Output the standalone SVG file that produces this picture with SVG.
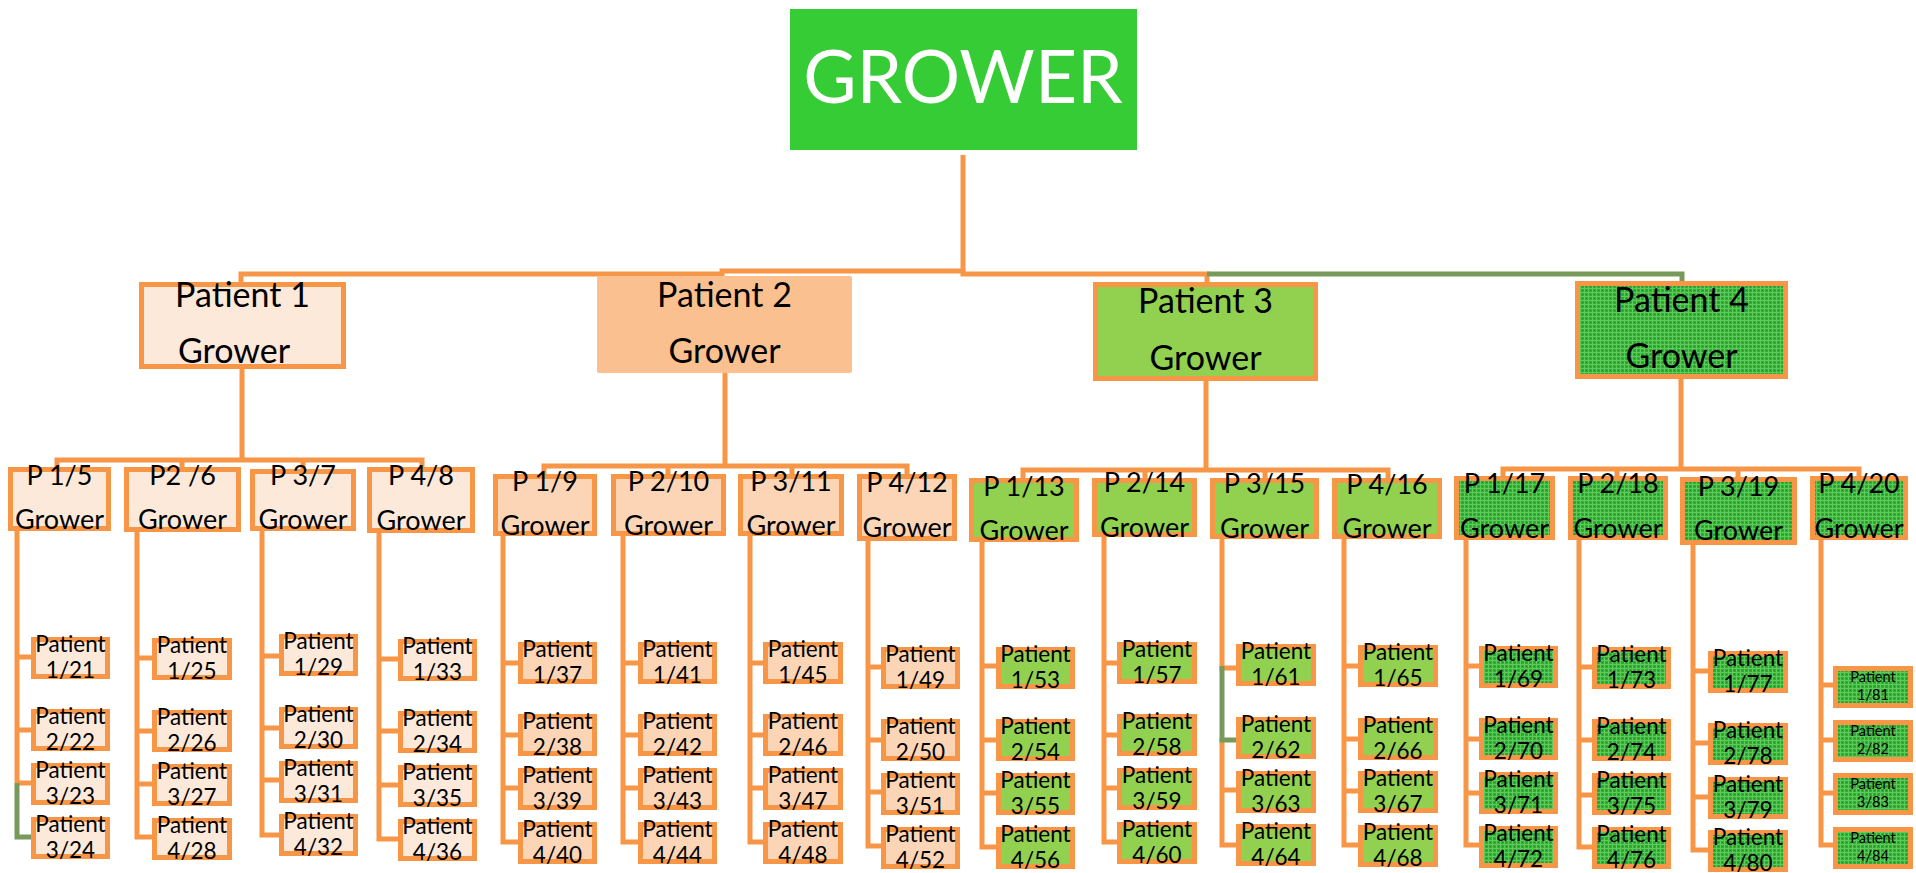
<svg xmlns="http://www.w3.org/2000/svg" width="1916" height="873" viewBox="0 0 1916 873">
<defs>
<pattern id="pat" width="4" height="4" patternUnits="userSpaceOnUse">
<rect width="4" height="4" fill="#31AE31"/>
<rect width="4" height="1" fill="#5CCB5C"/>
<rect width="1" height="4" fill="#5CCB5C"/>
<rect x="2" y="2" width="1" height="1" fill="#248E24"/>
</pattern>
<style>
.c{fill:none;stroke:#F79646;stroke-width:5}
.g{fill:none;stroke:#77995A;stroke-width:5}
.b1{fill:#FDE9D9;stroke:#F79646;stroke-width:5}
.b2{fill:#FBD5B5;stroke:#F79646;stroke-width:5}
.b3{fill:#92D050;stroke:#F79646;stroke-width:5}
.b4{fill:url(#pat);stroke:#F79646;stroke-width:5}
text{font-family:Lato,"Open Sans","Liberation Sans",sans-serif;fill:#000;text-anchor:middle}
.root{font-size:73px;fill:#fff}
.pt{font-size:34px}
.l2{font-size:27px}
.lf{font-size:22.5px}
.sm{font-size:14.5px}
</style>
</defs>
<rect width="1916" height="873" fill="#fff"/>
<g id="connectors">
<path class="c" d="M963 155V272"/>
<path class="c" d="M241 282V274H722M722 276V271H963V274H1207V282"/>
<path class="g" d="M1207 274H1682V281"/>
<path class="c" d="M242 369V460M57 467V460H422V467M182 460V467M303 460V469"/>
<path class="c" d="M725 373V466M544 474V466H907V474M668 466V474M792 466V474"/>
<path class="c" d="M1206 381V470M1023 478V470H1388V478M1145 470V478M1265 470V478"/>
<path class="c" d="M1681 379V469M1503 476V469H1859V476M1617 469V476M1738 469V477"/>
<path class="c" d="M17 531V783M17 657H31M17 730H31M17 783H31"/>
<path class="g" d="M17 783V837H31"/>
<path class="c" d="M137 532V837H152M137 658H152M137 731H152M137 784H152"/>
<path class="c" d="M262 531V835H279M262 656H279M262 728H279M262 780H279"/>
<path class="c" d="M379 533V839H398M379 659H398M379 731H398M379 785H398"/>
<path class="c" d="M503 536V842H518M503 663H518M503 735H518M503 788H518"/>
<path class="c" d="M623 536V842H638M623 663H638M623 735H638M623 788H638"/>
<path class="c" d="M750 536V842H763M750 663H763M750 735H763M750 788H763"/>
<path class="c" d="M868 541V846H881M868 667H881M868 740H881M868 792H881"/>
<path class="c" d="M982 542V847H996M982 666H996M982 740H996M982 793H996"/>
<path class="c" d="M1104 537V842H1117M1104 663H1117M1104 735H1117M1104 788H1117"/>
<path class="c" d="M1222 539V668H1236M1222 738V845H1236M1222 790H1236"/>
<path class="g" d="M1222 666V740H1236"/>
<path class="c" d="M1344 539V845H1358M1344 666H1358M1344 739H1358M1344 791H1358"/>
<path class="c" d="M1466 540V845H1479M1466 666H1479M1466 739H1479M1466 793H1479"/>
<path class="c" d="M1579 540V847H1592M1579 667H1592M1579 740H1592M1579 795H1592"/>
<path class="c" d="M1693 545V850H1708M1693 671H1708M1693 743H1708M1693 797H1708"/>
<path class="c" d="M1821 540V845H1833M1821 685H1833M1821 740H1833M1821 793H1833"/>
</g>
<g id="root"><rect x="790" y="9" width="347" height="141" fill="#36CC36"/><text class="root" x="963" y="103">GROWER</text></g>
<g id="patient1"><rect class="b1" x="141.5" y="284.5" width="202" height="82"/><text class="pt" x="242.5" y="307">Patient 1</text><text class="pt" x="178" y="363" style="text-anchor:start">Grower</text></g>
<g id="patient2"><rect x="597" y="276" width="255" height="97" rx="2" fill="#FAC090"/><text class="pt" x="724.5" y="307">Patient 2</text><text class="pt" x="724.5" y="363">Grower</text></g>
<g id="patient3"><rect class="b3" x="1095.5" y="284.5" width="220" height="94"/><text class="pt" x="1205.5" y="313">Patient 3</text><text class="pt" x="1205.5" y="370">Grower</text></g>
<g id="patient4"><rect class="b4" x="1577.5" y="283.5" width="208" height="93"/><text class="pt" x="1681.5" y="312">Patient 4</text><text class="pt" x="1681.5" y="368">Grower</text></g>
<g id="p1-5"><rect class="b1" x="10.5" y="469.5" width="98" height="59"/><text class="l2" x="59.5" y="485">P 1/5</text><text class="l2" x="59.5" y="529">Grower</text></g>
<g id="p2-6"><rect class="b1" x="126.5" y="469.5" width="112" height="60"/><text class="l2" x="182.5" y="485">P2 /6</text><text class="l2" x="182.5" y="529">Grower</text></g>
<g id="p3-7"><rect class="b1" x="252.5" y="471.5" width="101" height="57"/><text class="l2" x="303" y="485">P 3/7</text><text class="l2" x="303" y="529">Grower</text></g>
<g id="p4-8"><rect class="b1" x="369.5" y="469.5" width="103" height="61"/><text class="l2" x="421" y="485">P 4/8</text><text class="l2" x="421" y="530">Grower</text></g>
<g id="p1-9"><rect class="b2" x="495.5" y="476.5" width="99" height="57"/><text class="l2" x="545" y="491">P 1/9</text><text class="l2" x="545" y="535">Grower</text></g>
<g id="p2-10"><rect class="b2" x="613.5" y="476.5" width="110" height="57"/><text class="l2" x="668.5" y="491">P 2/10</text><text class="l2" x="668.5" y="535">Grower</text></g>
<g id="p3-11"><rect class="b2" x="740.5" y="476.5" width="101" height="57"/><text class="l2" x="791" y="491">P 3/11</text><text class="l2" x="791" y="535">Grower</text></g>
<g id="p4-12"><rect class="b2" x="859.5" y="476.5" width="95" height="62"/><text class="l2" x="907" y="492">P 4/12</text><text class="l2" x="907" y="537">Grower</text></g>
<g id="p1-13"><rect class="b3" x="971.5" y="480.5" width="105" height="59"/><text class="l2" x="1024" y="496">P 1/13</text><text class="l2" x="1024" y="540">Grower</text></g>
<g id="p2-14"><rect class="b3" x="1094.5" y="480.5" width="100" height="54"/><text class="l2" x="1144.5" y="492">P 2/14</text><text class="l2" x="1144.5" y="537">Grower</text></g>
<g id="p3-15"><rect class="b3" x="1212.5" y="480.5" width="104" height="56"/><text class="l2" x="1264.5" y="493">P 3/15</text><text class="l2" x="1264.5" y="538">Grower</text></g>
<g id="p4-16"><rect class="b3" x="1334.5" y="480.5" width="105" height="56"/><text class="l2" x="1387" y="494">P 4/16</text><text class="l2" x="1387" y="538">Grower</text></g>
<g id="p1-17"><rect class="b4" x="1456.5" y="478.5" width="96" height="59"/><text class="l2" x="1504.5" y="493">P 1/17</text><text class="l2" x="1504.5" y="538">Grower</text></g>
<g id="p2-18"><rect class="b4" x="1570.5" y="478.5" width="95" height="59"/><text class="l2" x="1618" y="493">P 2/18</text><text class="l2" x="1618" y="538">Grower</text></g>
<g id="p3-19"><rect class="b4" x="1682.5" y="479.5" width="112" height="63"/><text class="l2" x="1738.5" y="496">P 3/19</text><text class="l2" x="1738.5" y="540">Grower</text></g>
<g id="p4-20"><rect class="b4" x="1812.5" y="478.5" width="93" height="59"/><text class="l2" x="1859" y="493">P 4/20</text><text class="l2" x="1859" y="538">Grower</text></g>
<g id="leaf-1-21"><rect class="b1" x="33.5" y="639.5" width="74" height="37"/><text class="lf" x="70.5" y="651.5">Patient<tspan x="70.5" dy="26.5">1/21</tspan></text></g>
<g id="leaf-2-22"><rect class="b1" x="33.5" y="711.5" width="74" height="37"/><text class="lf" x="70.5" y="723.5">Patient<tspan x="70.5" dy="26.5">2/22</tspan></text></g>
<g id="leaf-3-23"><rect class="b1" x="33.5" y="765.5" width="74" height="37"/><text class="lf" x="70.5" y="777.5">Patient<tspan x="70.5" dy="26.5">3/23</tspan></text></g>
<g id="leaf-3-24"><rect class="b1" x="33.5" y="819.5" width="74" height="37"/><text class="lf" x="70.5" y="831.5">Patient<tspan x="70.5" dy="26.5">3/24</tspan></text></g>
<g id="leaf-1-25"><rect class="b1" x="154.5" y="640.5" width="75" height="37"/><text class="lf" x="192" y="652.5">Patient<tspan x="192" dy="26.5">1/25</tspan></text></g>
<g id="leaf-2-26"><rect class="b1" x="154.5" y="712.5" width="75" height="37"/><text class="lf" x="192" y="724.5">Patient<tspan x="192" dy="26.5">2/26</tspan></text></g>
<g id="leaf-3-27"><rect class="b1" x="154.5" y="766.5" width="75" height="37"/><text class="lf" x="192" y="778.5">Patient<tspan x="192" dy="26.5">3/27</tspan></text></g>
<g id="leaf-4-28"><rect class="b1" x="154.5" y="820.5" width="75" height="37"/><text class="lf" x="192" y="832.5">Patient<tspan x="192" dy="26.5">4/28</tspan></text></g>
<g id="leaf-1-29"><rect class="b1" x="281.5" y="636.5" width="74" height="37"/><text class="lf" x="318.5" y="648.5">Patient<tspan x="318.5" dy="26.5">1/29</tspan></text></g>
<g id="leaf-2-30"><rect class="b1" x="281.5" y="709.5" width="74" height="37"/><text class="lf" x="318.5" y="721.5">Patient<tspan x="318.5" dy="26.5">2/30</tspan></text></g>
<g id="leaf-3-31"><rect class="b1" x="281.5" y="763.5" width="74" height="37"/><text class="lf" x="318.5" y="775.5">Patient<tspan x="318.5" dy="26.5">3/31</tspan></text></g>
<g id="leaf-4-32"><rect class="b1" x="281.5" y="816.5" width="74" height="37"/><text class="lf" x="318.5" y="828.5">Patient<tspan x="318.5" dy="26.5">4/32</tspan></text></g>
<g id="leaf-1-33"><rect class="b1" x="400.5" y="641.5" width="74" height="37"/><text class="lf" x="437.5" y="653.5">Patient<tspan x="437.5" dy="26.5">1/33</tspan></text></g>
<g id="leaf-2-34"><rect class="b1" x="400.5" y="713.5" width="74" height="37"/><text class="lf" x="437.5" y="725.5">Patient<tspan x="437.5" dy="26.5">2/34</tspan></text></g>
<g id="leaf-3-35"><rect class="b1" x="400.5" y="767.5" width="74" height="37"/><text class="lf" x="437.5" y="779.5">Patient<tspan x="437.5" dy="26.5">3/35</tspan></text></g>
<g id="leaf-4-36"><rect class="b1" x="400.5" y="821.5" width="74" height="37"/><text class="lf" x="437.5" y="833.5">Patient<tspan x="437.5" dy="26.5">4/36</tspan></text></g>
<g id="leaf-1-37"><rect class="b2" x="520.5" y="644.5" width="74" height="37"/><text class="lf" x="557.5" y="656.5">Patient<tspan x="557.5" dy="26.5">1/37</tspan></text></g>
<g id="leaf-2-38"><rect class="b2" x="520.5" y="716.5" width="74" height="37"/><text class="lf" x="557.5" y="728.5">Patient<tspan x="557.5" dy="26.5">2/38</tspan></text></g>
<g id="leaf-3-39"><rect class="b2" x="520.5" y="770.5" width="74" height="37"/><text class="lf" x="557.5" y="782.5">Patient<tspan x="557.5" dy="26.5">3/39</tspan></text></g>
<g id="leaf-4-40"><rect class="b2" x="520.5" y="824.5" width="74" height="37"/><text class="lf" x="557.5" y="836.5">Patient<tspan x="557.5" dy="26.5">4/40</tspan></text></g>
<g id="leaf-1-41"><rect class="b2" x="640.5" y="644.5" width="74" height="37"/><text class="lf" x="677.5" y="656.5">Patient<tspan x="677.5" dy="26.5">1/41</tspan></text></g>
<g id="leaf-2-42"><rect class="b2" x="640.5" y="716.5" width="74" height="37"/><text class="lf" x="677.5" y="728.5">Patient<tspan x="677.5" dy="26.5">2/42</tspan></text></g>
<g id="leaf-3-43"><rect class="b2" x="640.5" y="770.5" width="74" height="37"/><text class="lf" x="677.5" y="782.5">Patient<tspan x="677.5" dy="26.5">3/43</tspan></text></g>
<g id="leaf-4-44"><rect class="b2" x="640.5" y="824.5" width="74" height="37"/><text class="lf" x="677.5" y="836.5">Patient<tspan x="677.5" dy="26.5">4/44</tspan></text></g>
<g id="leaf-1-45"><rect class="b2" x="765.5" y="644.5" width="75" height="37"/><text class="lf" x="803" y="656.5">Patient<tspan x="803" dy="26.5">1/45</tspan></text></g>
<g id="leaf-2-46"><rect class="b2" x="765.5" y="716.5" width="75" height="37"/><text class="lf" x="803" y="728.5">Patient<tspan x="803" dy="26.5">2/46</tspan></text></g>
<g id="leaf-3-47"><rect class="b2" x="765.5" y="770.5" width="75" height="37"/><text class="lf" x="803" y="782.5">Patient<tspan x="803" dy="26.5">3/47</tspan></text></g>
<g id="leaf-4-48"><rect class="b2" x="765.5" y="824.5" width="75" height="37"/><text class="lf" x="803" y="836.5">Patient<tspan x="803" dy="26.5">4/48</tspan></text></g>
<g id="leaf-1-49"><rect class="b2" x="883.5" y="649.5" width="74" height="37"/><text class="lf" x="920.5" y="661.5">Patient<tspan x="920.5" dy="26.5">1/49</tspan></text></g>
<g id="leaf-2-50"><rect class="b2" x="883.5" y="721.5" width="74" height="37"/><text class="lf" x="920.5" y="733.5">Patient<tspan x="920.5" dy="26.5">2/50</tspan></text></g>
<g id="leaf-3-51"><rect class="b2" x="883.5" y="775.5" width="74" height="37"/><text class="lf" x="920.5" y="787.5">Patient<tspan x="920.5" dy="26.5">3/51</tspan></text></g>
<g id="leaf-4-52"><rect class="b2" x="883.5" y="829.5" width="74" height="37"/><text class="lf" x="920.5" y="841.5">Patient<tspan x="920.5" dy="26.5">4/52</tspan></text></g>
<g id="leaf-1-53"><rect class="b3" x="998.5" y="649.5" width="74" height="37"/><text class="lf" x="1035.5" y="661.5">Patient<tspan x="1035.5" dy="26.5">1/53</tspan></text></g>
<g id="leaf-2-54"><rect class="b3" x="998.5" y="721.5" width="74" height="37"/><text class="lf" x="1035.5" y="733.5">Patient<tspan x="1035.5" dy="26.5">2/54</tspan></text></g>
<g id="leaf-3-55"><rect class="b3" x="998.5" y="775.5" width="74" height="37"/><text class="lf" x="1035.5" y="787.5">Patient<tspan x="1035.5" dy="26.5">3/55</tspan></text></g>
<g id="leaf-4-56"><rect class="b3" x="998.5" y="829.5" width="74" height="37"/><text class="lf" x="1035.5" y="841.5">Patient<tspan x="1035.5" dy="26.5">4/56</tspan></text></g>
<g id="leaf-1-57"><rect class="b3" x="1119.5" y="644.5" width="75" height="37"/><text class="lf" x="1157" y="656.5">Patient<tspan x="1157" dy="26.5">1/57</tspan></text></g>
<g id="leaf-2-58"><rect class="b3" x="1119.5" y="716.5" width="75" height="37"/><text class="lf" x="1157" y="728.5">Patient<tspan x="1157" dy="26.5">2/58</tspan></text></g>
<g id="leaf-3-59"><rect class="b3" x="1119.5" y="770.5" width="75" height="37"/><text class="lf" x="1157" y="782.5">Patient<tspan x="1157" dy="26.5">3/59</tspan></text></g>
<g id="leaf-4-60"><rect class="b3" x="1119.5" y="824.5" width="75" height="37"/><text class="lf" x="1157" y="836.5">Patient<tspan x="1157" dy="26.5">4/60</tspan></text></g>
<g id="leaf-1-61"><rect class="b3" x="1238.5" y="646.5" width="75" height="37"/><text class="lf" x="1276" y="658.5">Patient<tspan x="1276" dy="26.5">1/61</tspan></text></g>
<g id="leaf-2-62"><rect class="b3" x="1238.5" y="719.5" width="75" height="37"/><text class="lf" x="1276" y="731.5">Patient<tspan x="1276" dy="26.5">2/62</tspan></text></g>
<g id="leaf-3-63"><rect class="b3" x="1238.5" y="773.5" width="75" height="37"/><text class="lf" x="1276" y="785.5">Patient<tspan x="1276" dy="26.5">3/63</tspan></text></g>
<g id="leaf-4-64"><rect class="b3" x="1238.5" y="826.5" width="75" height="37"/><text class="lf" x="1276" y="838.5">Patient<tspan x="1276" dy="26.5">4/64</tspan></text></g>
<g id="leaf-1-65"><rect class="b3" x="1360.5" y="647.5" width="75" height="37"/><text class="lf" x="1398" y="659.5">Patient<tspan x="1398" dy="26.5">1/65</tspan></text></g>
<g id="leaf-2-66"><rect class="b3" x="1360.5" y="720.5" width="75" height="37"/><text class="lf" x="1398" y="732.5">Patient<tspan x="1398" dy="26.5">2/66</tspan></text></g>
<g id="leaf-3-67"><rect class="b3" x="1360.5" y="773.5" width="75" height="37"/><text class="lf" x="1398" y="785.5">Patient<tspan x="1398" dy="26.5">3/67</tspan></text></g>
<g id="leaf-4-68"><rect class="b3" x="1360.5" y="827.5" width="75" height="37"/><text class="lf" x="1398" y="839.5">Patient<tspan x="1398" dy="26.5">4/68</tspan></text></g>
<g id="leaf-1-69"><rect class="b4" x="1481.5" y="648.5" width="74" height="37"/><text class="lf" x="1518.5" y="660.5">Patient<tspan x="1518.5" dy="26.5">1/69</tspan></text></g>
<g id="leaf-2-70"><rect class="b4" x="1481.5" y="720.5" width="74" height="37"/><text class="lf" x="1518.5" y="732.5">Patient<tspan x="1518.5" dy="26.5">2/70</tspan></text></g>
<g id="leaf-3-71"><rect class="b4" x="1481.5" y="774.5" width="74" height="37"/><text class="lf" x="1518.5" y="786.5">Patient<tspan x="1518.5" dy="26.5">3/71</tspan></text></g>
<g id="leaf-4-72"><rect class="b4" x="1481.5" y="828.5" width="74" height="37"/><text class="lf" x="1518.5" y="840.5">Patient<tspan x="1518.5" dy="26.5">4/72</tspan></text></g>
<g id="leaf-1-73"><rect class="b4" x="1594.5" y="649.5" width="74" height="37"/><text class="lf" x="1631.5" y="661.5">Patient<tspan x="1631.5" dy="26.5">1/73</tspan></text></g>
<g id="leaf-2-74"><rect class="b4" x="1594.5" y="721.5" width="74" height="37"/><text class="lf" x="1631.5" y="733.5">Patient<tspan x="1631.5" dy="26.5">2/74</tspan></text></g>
<g id="leaf-3-75"><rect class="b4" x="1594.5" y="775.5" width="74" height="37"/><text class="lf" x="1631.5" y="787.5">Patient<tspan x="1631.5" dy="26.5">3/75</tspan></text></g>
<g id="leaf-4-76"><rect class="b4" x="1594.5" y="829.5" width="74" height="37"/><text class="lf" x="1631.5" y="841.5">Patient<tspan x="1631.5" dy="26.5">4/76</tspan></text></g>
<g id="leaf-1-77"><rect class="b4" x="1710.5" y="653.5" width="75" height="37"/><text class="lf" x="1748" y="665.5">Patient<tspan x="1748" dy="26.5">1/77</tspan></text></g>
<g id="leaf-2-78"><rect class="b4" x="1710.5" y="725.5" width="75" height="37"/><text class="lf" x="1748" y="737.5">Patient<tspan x="1748" dy="26.5">2/78</tspan></text></g>
<g id="leaf-3-79"><rect class="b4" x="1710.5" y="779.5" width="75" height="37"/><text class="lf" x="1748" y="791.5">Patient<tspan x="1748" dy="26.5">3/79</tspan></text></g>
<g id="leaf-4-80"><rect class="b4" x="1710.5" y="832.5" width="75" height="37"/><text class="lf" x="1748" y="844.5">Patient<tspan x="1748" dy="26.5">4/80</tspan></text></g>
<g id="leaf-1-81"><rect class="b4" x="1835.5" y="668.5" width="75" height="37"/><text class="sm" x="1873" y="682">Patient<tspan x="1873" dy="18">1/81</tspan></text></g>
<g id="leaf-2-82"><rect class="b4" x="1835.5" y="722.5" width="75" height="37"/><text class="sm" x="1873" y="736">Patient<tspan x="1873" dy="18">2/82</tspan></text></g>
<g id="leaf-3-83"><rect class="b4" x="1835.5" y="775.5" width="75" height="37"/><text class="sm" x="1873" y="789">Patient<tspan x="1873" dy="18">3/83</tspan></text></g>
<g id="leaf-4-84"><rect class="b4" x="1835.5" y="829.5" width="75" height="37"/><text class="sm" x="1873" y="843">Patient<tspan x="1873" dy="18">4/84</tspan></text></g>
</svg>
